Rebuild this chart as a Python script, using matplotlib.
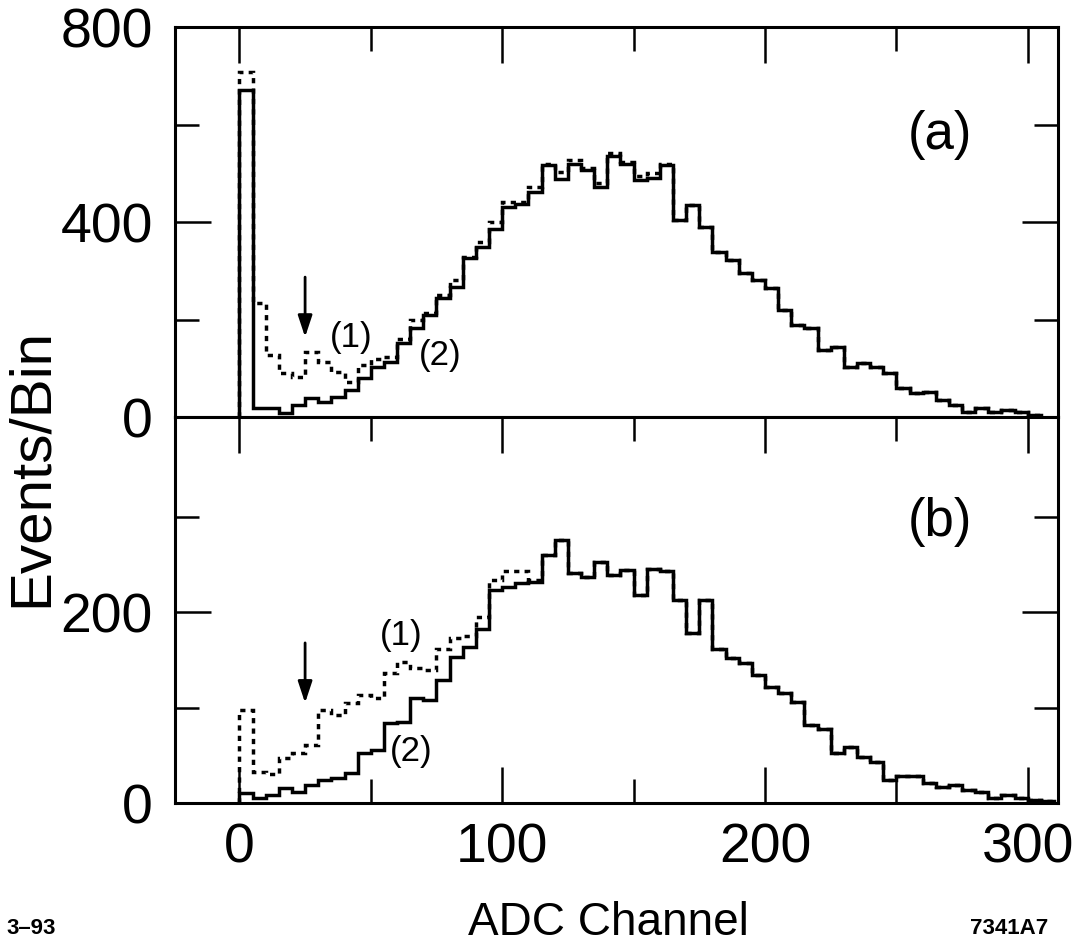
import matplotlib
matplotlib.use("Agg")
import matplotlib.pyplot as plt
import numpy as np

plt.rcParams['font.family'] = ['Liberation Sans', 'DejaVu Sans']

# largura dos bins em canais ADC
bin_width = 5

# painel (a): curva (1) pontilhada, curva (2) solida
a_curva1 = [707, 233, 127, 90, 82, 133, 113, 92, 72, 107,
            120, 123, 161, 199, 213, 250, 281, 328, 359, 400,
            441, 441, 472, 520, 503, 527, 510, 480, 541, 524,
            495, 500, 520, 404, 435, 390, 338, 322, 295, 281,
            264, 219, 189, 182, 137, 144, 103, 110, 103, 90,
            59, 49, 51, 35, 25, 10, 18, 10, 14, 10, 4]
a_curva2 = [670, 18, 18, 8, 25, 38, 31, 41, 55, 80,
            103, 113, 151, 182, 209, 244, 267, 326, 349, 385,
            431, 436, 462, 517, 488, 520, 506, 472, 536, 520,
            486, 490, 517, 404, 435, 390, 338, 322, 295, 281,
            264, 219, 189, 182, 137, 144, 103, 110, 103, 90,
            59, 49, 51, 35, 25, 10, 18, 10, 14, 10, 4]

# painel (b)
b_curva1 = [98, 33, 30, 47, 52, 61, 98, 92, 105, 113,
            110, 136, 148, 142, 140, 162, 173, 175, 195, 234,
            243, 243, 234, 260, 276, 241, 237, 253, 239, 244,
            218, 246, 243, 213, 178, 213, 162, 152, 147, 134,
            122, 115, 106, 82, 78, 52, 59, 48, 43, 24,
            28, 28, 21, 17, 19, 14, 12, 5, 8, 5, 3, 2]
b_curva2 = [10, 5, 8, 16, 12, 19, 24, 26, 31, 52,
            56, 84, 85, 110, 108, 129, 153, 164, 183, 223,
            227, 231, 232, 260, 276, 241, 237, 253, 239, 244,
            218, 246, 243, 213, 178, 213, 162, 152, 147, 134,
            122, 115, 106, 82, 78, 52, 59, 48, 43, 24,
            28, 28, 21, 17, 19, 14, 12, 5, 8, 5, 3, 2]

x_ticks = [0, 100, 200, 300]
x_minor = [50, 150, 250]

fig = plt.figure(figsize=(10.81, 9.51), dpi=100)
axA = fig.add_axes([0.1619, 0.5615, 0.8168, 0.4101])
axB = fig.add_axes([0.1619, 0.1556, 0.8168, 0.4059])

estilo1 = dict(color='black', lw=2.5, linestyle=(0, (1.5, 1.5)))
estilo2 = dict(color='black', lw=2.5)

def painel(ax, c1, c2):
    e1 = np.arange(len(c1) + 1) * bin_width
    e2 = np.arange(len(c2) + 1) * bin_width
    ax.stairs(c1, e1, **estilo1)
    ax.stairs(c2, e2, **estilo2)
    ax.set_xlim(-24.5, 311.5)
    for s in ax.spines.values():
        s.set_linewidth(2.2)
    ax.set_xticks(x_ticks)
    ax.set_xticks(x_minor, minor=True)
    ax.tick_params(which='both', direction='in', width=1.8, right=True,
                   labelsize=40, pad=16)
    ax.tick_params(which='major', length=26)
    ax.tick_params(which='minor', length=17)

painel(axA, a_curva1, a_curva2)
painel(axB, b_curva1, b_curva2)

axA.set_ylim(0, 800)
axA.set_yticks([0, 400, 800])
axA.set_yticks([200, 600], minor=True)
axA.tick_params(which='both', top=True, bottom=False, labelbottom=False)

axB.set_ylim(0, 405)
axB.set_yticks([0, 200])
axB.set_yticks([100, 300], minor=True)
axB.tick_params(which='both', top=True, bottom=True)
axB.tick_params(axis='x', pad=14)

seta = dict(arrowstyle='-|>,head_length=1.3,head_width=0.43', lw=2, color='black',
            shrinkA=0, shrinkB=0)
axA.annotate('', xy=(25, 164), xytext=(25, 287), arrowprops=seta)
axB.annotate('', xy=(25, 105), xytext=(25, 168), arrowprops=seta)

axA.text(42.6, 164, '(1)', fontsize=25, ha='center', va='center')
axA.text(76.4, 127, '(2)', fontsize=25, ha='center', va='center')
axB.text(61.6, 176, '(1)', fontsize=25, ha='center', va='center')
axB.text(65.5, 54, '(2)', fontsize=25, ha='center', va='center')
axA.text(266.5, 578, '(a)', fontsize=38, ha='center', va='center')
axB.text(266.5, 295, '(b)', fontsize=38, ha='center', va='center')

fig.text(0.029, 0.508, 'Events/Bin', rotation=90, fontsize=42, ha='center', va='center')
fig.text(0.563, 0.017, 'ADC Channel', fontsize=33, ha='center', va='baseline')
fig.text(0.006, 0.018, '3–93', fontsize=16, fontweight='bold', ha='left', va='baseline')
fig.text(0.97, 0.018, '7341A7', fontsize=16, fontweight='bold', ha='right', va='baseline')

fig.savefig('out.png', dpi=100)
